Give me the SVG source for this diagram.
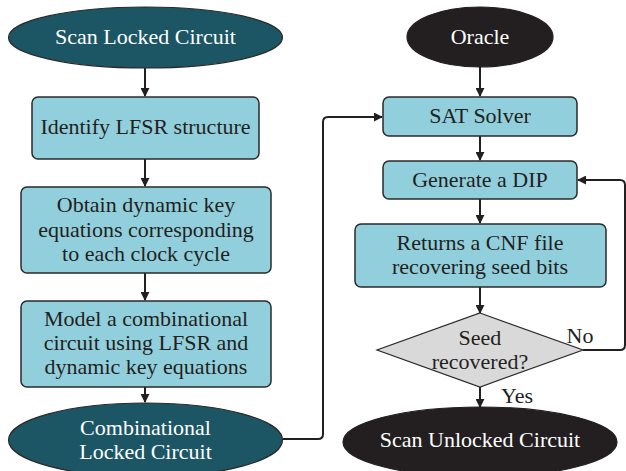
<svg xmlns="http://www.w3.org/2000/svg" width="626" height="471" viewBox="0 0 626 471">
  <style>
    .term-teal { fill: #1c5664; stroke: #2a2a2a; stroke-width: 1.2; }
    .term-dark { fill: #231f20; stroke: #231f20; stroke-width: 1.2; }
    .step { fill: #92cfdd; stroke: #2a2a2a; stroke-width: 1.5; }
    .decision { fill: #d9d9d9; stroke: #2a2a2a; stroke-width: 1.2; }
    text { font-family: "Liberation Serif", "DejaVu Serif", serif; font-size: 22px; text-anchor: middle; }
    .light { fill: #ffffff; }
    .ink { fill: #231f20; }
    .wire { fill: none; stroke: #231f20; stroke-width: 2; }
  </style>
  <defs>
    <marker id="arrow" viewBox="0 0 10 10" refX="9" refY="5" markerWidth="9" markerHeight="9" markerUnits="userSpaceOnUse" orient="auto">
      <path d="M0,0 L10,5 L0,10 z" fill="#231f20"/>
    </marker>
  </defs>

  <rect width="626" height="471" fill="#ffffff"/>

  <!-- connectors -->
  <g id="connectors">
    <path class="wire" marker-end="url(#arrow)" d="M145,68 V96"/>
    <path class="wire" marker-end="url(#arrow)" d="M145,159 V186"/>
    <path class="wire" marker-end="url(#arrow)" d="M145,273 V300"/>
    <path class="wire" marker-end="url(#arrow)" d="M145,387 V402"/>
    <path class="wire" marker-end="url(#arrow)" d="M283,439 H318 Q323,439 323,434 V122 Q323,117 328,117 H382"/>
    <path class="wire" marker-end="url(#arrow)" d="M480,67 V96"/>
    <path class="wire" marker-end="url(#arrow)" d="M480,136 V160"/>
    <path class="wire" marker-end="url(#arrow)" d="M480,199 V223"/>
    <path class="wire" marker-end="url(#arrow)" d="M480,287 V313"/>
    <path class="wire" marker-end="url(#arrow)" d="M480,387 V407"/>
    <path class="wire" marker-end="url(#arrow)" d="M583,350 H620 Q625,350 625,345 V185 Q625,180 620,180 H578"/>
    <text class="ink" x="580" y="343">No</text>
    <text class="ink" x="517" y="403">Yes</text>
  </g>

  <!-- left column -->
  <g id="scan-locked">
    <ellipse class="term-teal" cx="145.5" cy="37.5" rx="137" ry="30.5"/>
    <text class="light" x="145.5" y="44">Scan Locked Circuit</text>
  </g>
  <g id="identify-lfsr">
    <rect class="step" x="32" y="97" width="227" height="62" rx="6"/>
    <text class="ink" x="145.5" y="134">Identify LFSR structure</text>
  </g>
  <g id="key-equations">
    <rect class="step" x="21" y="187" width="250" height="86" rx="6"/>
    <text class="ink" x="146" y="212">Obtain dynamic key</text>
    <text class="ink" x="146" y="237">equations corresponding</text>
    <text class="ink" x="146" y="261">to each clock cycle</text>
  </g>
  <g id="model-circuit">
    <rect class="step" x="21" y="301" width="250" height="86" rx="6"/>
    <text class="ink" x="146" y="326">Model a combinational</text>
    <text class="ink" x="146" y="350">circuit using LFSR and</text>
    <text class="ink" x="146" y="374">dynamic key equations</text>
  </g>
  <g id="combinational-locked">
    <ellipse class="term-teal" cx="145.5" cy="440" rx="137" ry="37"/>
    <text class="light" x="145.5" y="435">Combinational</text>
    <text class="light" x="145.5" y="459">Locked Circuit</text>
  </g>

  <!-- right column -->
  <g id="oracle">
    <ellipse class="term-dark" cx="480" cy="37" rx="73" ry="30"/>
    <text class="light" x="480" y="44">Oracle</text>
  </g>
  <g id="sat-solver">
    <rect class="step" x="383" y="97" width="194" height="39" rx="6"/>
    <text class="ink" x="480" y="123">SAT Solver</text>
  </g>
  <g id="generate-dip">
    <rect class="step" x="383" y="161" width="194" height="38" rx="6"/>
    <text class="ink" x="480" y="187">Generate a DIP</text>
  </g>
  <g id="returns-cnf">
    <rect class="step" x="355" y="224" width="251" height="63" rx="6"/>
    <text class="ink" x="480" y="250">Returns a CNF file</text>
    <text class="ink" x="480" y="274">recovering seed bits</text>
  </g>
  <g id="seed-recovered">
    <polygon class="decision" points="480,313 583,350 480,387 377,350"/>
    <text class="ink" x="480" y="345">Seed</text>
    <text class="ink" x="480" y="369">recovered?</text>
  </g>
  <g id="scan-unlocked">
    <ellipse class="term-dark" cx="480" cy="442" rx="137" ry="35"/>
    <text class="light" x="480" y="447">Scan Unlocked Circuit</text>
  </g>
</svg>
